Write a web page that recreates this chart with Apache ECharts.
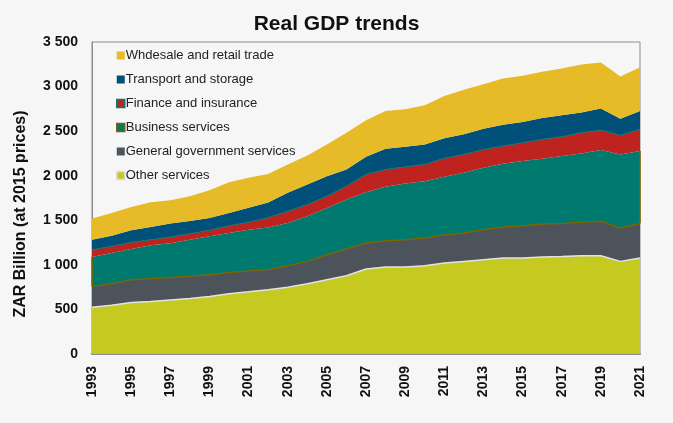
<!DOCTYPE html>
<html><head><meta charset="utf-8">
<script src="https://cdn.jsdelivr.net/npm/echarts@6/dist/echarts.min.js"></script>
<style>html,body{margin:0;padding:0;background:#f6f6f6;}#c{width:673px;height:423px;}</style>
</head><body><div id="c"></div>
<script>
const years = ['1993','1994','1995','1996','1997','1998','1999','2000','2001','2002','2003','2004','2005','2006','2007','2008','2009','2010','2011','2012','2013','2014','2015','2016','2017','2018','2019','2020','2021'];
const otherServices = [525,548,577,588,607,622,645,675,697,720,750,788,833,878,953,975,975,990,1020,1039,1058,1076,1076,1088,1095,1103,1103,1039,1076];
const generalGovernment = [232,239,255,255,251,251,243,239,233,228,240,251,281,300,292,296,308,311,315,319,337,349,364,371,368,375,386,375,387];
const businessServices = [331,346,346,376,383,409,432,444,465,472,480,506,525,555,570,604,630,638,653,675,694,709,724,731,757,772,799,825,813];
const financeInsurance = [82,75,75,63,72,68,67,82,83,110,131,131,131,149,199,195,187,187,207,206,206,199,206,218,218,233,225,214,244];
const transportStorage = [112,119,134,143,150,143,139,143,162,170,207,225,225,188,199,233,225,225,225,225,233,240,233,240,240,225,240,187,206];
const wholesaleRetail = [237,256,263,278,262,277,311,344,336,320,318,327,356,413,408,423,420,439,475,499,498,517,517,517,525,540,517,473,492];
const yTicks = [0,500,1000,1500,2000,2500,3000,3500];

const F = '"Liberation Sans", Arial, sans-serif';
const OLIVE = '#7a6500';
function mk(name, data, fill, line, lw, z){
  return {name, type:'line', stack:'gdp', data, symbol:'none', smooth:false, z,
    lineStyle:{color:line, width:lw}, itemStyle:{color:fill}, areaStyle:{color:fill, opacity:1}, emphasis:{disabled:true}};
}
// edges of the business services band at both ends (from the data)
const last = years.length - 1;
const busLow = i => otherServices[i] + generalGovernment[i];
const busHigh = i => busLow(i) + businessServices[i];
const busSeries = mk('Business services', businessServices, '#007a6e', '#007a6e', 0, 2);
busSeries.markLine = {silent:true, symbol:'none', animation:false, label:{show:false},
  lineStyle:{color:OLIVE, width:1.5, type:'solid'},
  data:[
    [{coord:[years[0], busLow(0)]},{coord:[years[0], busHigh(0)]}],
    [{coord:[years[last], busLow(last)]},{coord:[years[last], busHigh(last)]}]
  ]};

const chart = echarts.init(document.getElementById('c'));
chart.setOption({
  backgroundColor:'#f6f6f6',
  animation:false,
  title:{text:'Real GDP trends', left:'center', top:9, textStyle:{fontFamily:F, fontWeight:'bold', fontSize:21, color:'#111'}},
  grid:{left:92, right:33, top:42, bottom:69, show:true, borderColor:'#8c8c8c', borderWidth:1, backgroundColor:'#f6f6f6'},
  legend:{orient:'vertical', left:111, top:44, itemGap:11, itemWidth:8, itemHeight:8, icon:'rect',
    textStyle:{fontFamily:F, fontSize:13, color:'#222', padding:[0,0,0,-4]},
    data:[
      {name:'Whdesale and retail trade', itemStyle:{color:'#e6bb27', borderWidth:0}},
      {name:'Transport and storage', itemStyle:{color:'#00507a', borderWidth:0}},
      {name:'Finance and insurance', itemStyle:{color:'#be2320', borderColor:'#0a7a6e', borderWidth:1.5}},
      {name:'Business services', itemStyle:{color:'#007a6e', borderColor:OLIVE, borderWidth:1.5}},
      {name:'General government services', itemStyle:{color:'#4d535b', borderWidth:0}},
      {name:'Other services', itemStyle:{color:'#c5c920', borderColor:'#dcdcdc', borderWidth:1.5}}
    ]},
  graphic:[{type:'text', x:21, y:214, rotation:Math.PI/2,
    style:{text:'ZAR Billion (at 2015 prices)', fontFamily:F, fontWeight:'bold', fontSize:16, fill:'#111', align:'center', verticalAlign:'middle'}}],
  xAxis:{type:'category', data:years, boundaryGap:false,
    axisLine:{lineStyle:{color:'#8c8c8c', width:2}}, axisTick:{show:false},
    axisLabel:{interval:1, rotate:90, margin:12, fontFamily:F, fontWeight:'bold', fontSize:14, color:'#111'}},
  yAxis:{type:'value', min:0, max:3500, interval:500,
    axisLine:{show:true, lineStyle:{color:'#8c8c8c'}}, axisTick:{show:false}, splitLine:{show:false},
    axisLabel:{margin:14, fontFamily:F, fontWeight:'bold', fontSize:14, color:'#111',
      formatter:v => yTicks.includes(v) ? String(v).replace(/\B(?=(\d{3})+(?!\d))/g,' ') : ''}},
  series:[
    mk('Other services', otherServices, '#c5c920', '#e2e2e2', 1.5, 3),
    mk('General government services', generalGovernment, '#4d535b', OLIVE, 1.5, 3),
    busSeries,
    mk('Finance and insurance', financeInsurance, '#be2320', '#0a7a6e', 1, 3),
    mk('Transport and storage', transportStorage, '#00507a', '#00507a', 0, 2),
    mk('Whdesale and retail trade', wholesaleRetail, '#e6bb27', '#e6bb27', 0, 2)
  ]
});
</script></body></html>
